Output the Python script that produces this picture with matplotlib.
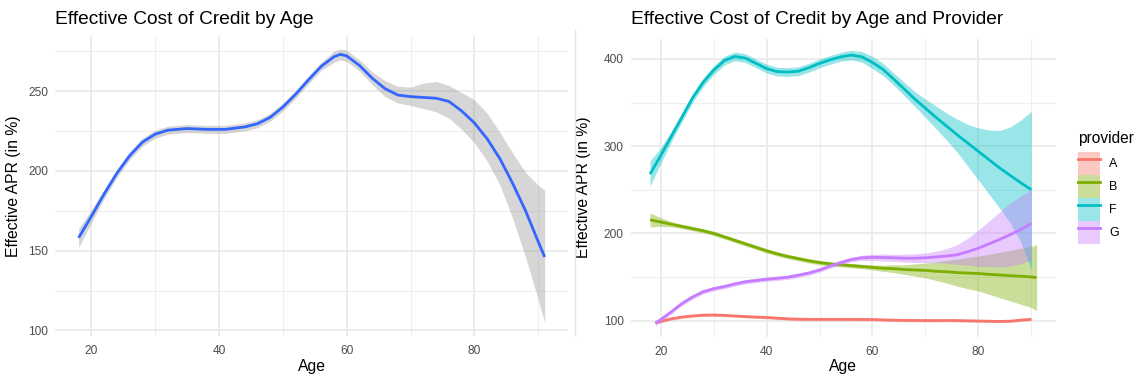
import matplotlib
matplotlib.use('Agg')
import matplotlib.pyplot as plt
from matplotlib.patches import Patch
from matplotlib.lines import Line2D
from matplotlib.legend_handler import HandlerTuple

plt.rcParams['font.family'] = ['Liberation Sans', 'DejaVu Sans']

# ---- left panel: all providers ----
age_all = [18, 20, 22, 24, 26, 28, 30, 32, 35, 38, 41, 44, 46, 48, 50, 52, 54, 56, 58, 59,
           60, 62, 64, 66, 68, 70, 72, 74, 76, 78, 80, 82, 84, 86, 88, 90, 91]
apr_all = [158, 171.5, 185.5, 198.5, 209.5, 218, 223, 225.5, 226.5, 226, 226, 227.5, 229.5, 233.5, 240, 248, 257, 265.5, 271.5, 273,
           272, 266, 258, 251.5, 247.5, 246.5, 246, 245.5, 243.5, 237.5, 230, 220, 207.5, 192, 175, 155.5, 146]
lo_all = [152, 167.5, 182.5, 196, 207, 215.5, 220.5, 223, 224, 223.5, 223.5, 225, 227, 231, 237.5, 245.5, 254.5, 263, 268, 269.5,
          268.5, 262.5, 254, 246.5, 242.5, 241, 239, 237, 233, 226, 217.5, 206, 191, 170, 146, 119, 105]
hi_all = [164, 175.5, 188.5, 201, 212, 220.5, 225.5, 228, 229, 228.5, 228.5, 230, 232, 236, 242.5, 250.5, 259.5, 268, 275, 276.5,
          275.5, 269.5, 262, 256.5, 253, 252.5, 255, 256, 253.5, 249, 244.5, 236, 224, 211, 199, 191, 188]

# ---- right panel: by provider ----
providers = ['A', 'B', 'F', 'G']
colors = ['#F8766D', '#7CAE00', '#00BFC4', '#C77CFF']

age_A = [19, 20, 22, 24, 26, 28, 30, 32, 34, 36, 38, 40, 42, 44, 46, 48, 50, 55, 60, 63, 66, 70, 75, 80, 84, 86, 88, 90]
apr_A = [97.5, 99, 102, 104, 105.3, 106.2, 106.4, 106, 105.3, 104.6, 104, 103.6, 102.8, 102, 101.6, 101.4, 101.4,
         101.4, 101.2, 100.6, 100.2, 100, 100.1, 99.5, 99, 99.3, 100.5, 101.5]
lo_A = [a - 1.5 for a in apr_A]
hi_A = [a + 1.5 for a in apr_A]

age_B = [18, 20, 22, 24, 26, 28, 30, 32, 34, 36, 38, 40, 42, 44, 46, 48, 50, 52, 54, 56, 58,
         60, 62, 64, 66, 68, 70, 72, 74, 76, 78, 80, 82, 84, 86, 88, 90, 91]
apr_B = [215.5, 213, 210.5, 208, 205.5, 203, 200, 196, 192, 188, 184, 180, 176.5, 173.5, 171, 168.5, 166.5, 165, 164, 163, 162,
         161, 160, 159.5, 158.5, 158, 157.5, 156.5, 156, 155, 154.5, 154, 153, 152.3, 151.5, 150.8, 150, 149.2]
hw_B = [8, 5, 3, 2.5, 2.5, 2.5, 2.5, 2.5, 2.5, 2.5, 2.5, 2.5, 2.5, 2.5, 2.5, 2.5, 2.5, 2.5, 2.5, 2.5, 2.5,
        3, 3.5, 4.5, 5.5, 7, 8.5, 10.5, 13, 15.5, 18, 20, 23, 26, 29, 32, 35, 38]
lo_B = [a - h for a, h in zip(apr_B, hw_B)]
hi_B = [a + h for a, h in zip(apr_B, hw_B)]

age_F = [18, 20, 22, 24, 26, 28, 30, 32, 34, 36, 38, 40, 42, 44, 46, 48, 50, 52, 54, 56, 58,
         60, 62, 64, 66, 68, 70, 72, 74, 76, 78, 80, 82, 84, 86, 88, 90]
apr_F = [268, 289, 311, 333, 355, 373, 387, 398, 403, 401, 395, 389, 385.5, 385, 386, 390, 395, 399, 402.5, 404.5, 402.5,
         396, 388, 377, 365.5, 354, 343.5, 333, 323, 313, 303.5, 294, 284.5, 275, 266.5, 258, 250]
lo_F = [254, 280, 305, 328, 350, 368, 382, 393, 398, 396, 390, 384, 380.5, 380, 381, 385, 390, 394, 397.5, 399, 396.5,
        389, 381, 370, 358, 345.5, 333, 320, 307, 293, 277, 261, 245, 229, 212, 190, 158]
hi_F = [283, 298, 317, 338, 360, 378, 392, 403, 408, 406, 400, 394, 390.5, 390, 391, 395, 400, 404, 407.5, 410, 408.5,
        403, 395, 384, 373, 362.5, 354, 346, 338, 331, 325, 321, 318.5, 318, 322, 330, 340]

age_G = [19, 20, 22, 24, 26, 28, 30, 32, 34, 36, 38, 40, 42, 44, 46, 48, 50, 52, 54, 56, 58,
         60, 62, 64, 66, 68, 70, 72, 74, 76, 78, 80, 82, 84, 86, 88, 90]
apr_G = [97, 101, 110, 119.5, 127, 133, 136.5, 139, 142, 144.5, 146, 147.4, 148.5, 149.7, 152, 154.5, 158, 162.5, 166.5, 170, 172,
         172.5, 172.3, 172, 171.5, 171.5, 172, 173, 174, 175.5, 179, 183, 188, 193, 198.5, 204.5, 211.5]
lo_G = [94, 98.5, 107.5, 117, 124.5, 130.5, 134, 136.5, 139.5, 142, 143.5, 145, 146, 147.2, 149.5, 152, 155.5, 160, 164, 167.5, 169,
        169, 168.3, 168, 167, 166.5, 166.5, 166.5, 165.5, 164.5, 163.5, 162, 162, 161.5, 162.5, 165, 170]
hi_G = [100, 103.5, 112.5, 122, 129.5, 135.5, 139, 141.5, 144.5, 147, 148.5, 149.9, 151, 152.2, 154.5, 157, 160.5, 165, 169, 172.5, 175,
        176, 176.3, 176, 176, 176.5, 177.5, 179.5, 182.5, 187, 194.5, 204, 214, 224.5, 234.5, 243, 250]

series = {
    'A': (age_A, apr_A, lo_A, hi_A),
    'B': (age_B, apr_B, lo_B, hi_B),
    'F': (age_F, apr_F, lo_F, hi_F),
    'G': (age_G, apr_G, lo_G, hi_G),
}

W, H = 1136, 381
fig = plt.figure(figsize=(W / 100, H / 100), dpi=100)
ax1 = fig.add_axes([55.3 / W, 1 - 336 / H, (568 - 55.3) / W, 300 / H])
ax2 = fig.add_axes([630.7 / W, 1 - 336.7 / H, (1056 - 630.7) / W, 298.2 / H])


def style(ax, xmin, xmax, ymin, ymax, yticks, yminor):
    ax.set_xlim(xmin, xmax)
    ax.set_ylim(ymin, ymax)
    ax.set_xticks([20, 40, 60, 80])
    ax.set_xticks([30, 50, 70, 90], minor=True)
    ax.set_yticks(yticks)
    ax.set_yticks(yminor, minor=True)
    for s in ax.spines.values():
        s.set_visible(False)
    ax.grid(which='major', color='#EBEBEB', lw=1.3)
    ax.grid(which='minor', color='#EFEFEF', lw=0.8)
    ax.set_axisbelow(True)
    ax.tick_params(which='both', length=0, labelsize=8.6, labelcolor='#4D4D4D')
    ax.tick_params(axis='x', pad=6.8)
    ax.tick_params(axis='y', pad=5.2)
    ax.set_xlabel('Age', fontsize=11.3)
    ax.set_ylabel('Effective APR (in %)', fontsize=11.3)


# left
ax1.fill_between(age_all, lo_all, hi_all, color='#999999', alpha=0.4, lw=0, zorder=2)
ax1.plot(age_all, apr_all, color='#3366FF', lw=2.0, zorder=3, solid_capstyle='butt')
style(ax1, 14.35, 94.65, 96.5, 284.5, [100, 150, 200, 250], [125, 175, 225, 275])
ax1.set_title('Effective Cost of Credit by Age', loc='left', fontsize=13.8, pad=8.3)
ax1.xaxis.set_label_coords(0.5, -0.078)
ax1.yaxis.set_label_coords(-0.066, 0.5)

# right
z = 2
for p, c in zip(providers, colors):
    x, y, lo, hi = series[p]
    ax2.fill_between(x, lo, hi, color=c, alpha=0.4, lw=0, zorder=z)
    ax2.plot(x, y, color=c, lw=2.0, zorder=z + 1, solid_capstyle='butt')
    z += 2
style(ax2, 14.35, 94.65, 81.5, 423.5, [100, 200, 300, 400], [150, 250, 350])
ax2.set_title('Effective Cost of Credit by Age and Provider', loc='left', fontsize=13.8, pad=10.1)
ax2.xaxis.set_label_coords(0.5, -0.076)
ax2.yaxis.set_label_coords(-0.093, 0.5)

# legend
fig.text(1078 / W, 1 - 138 / H, 'provider', fontsize=11.2, ha='left', va='center')
handles = [(Patch(facecolor=c, alpha=0.4, edgecolor='none'), Line2D([], [], color=c, lw=2.0))
           for c in colors]
ax2.legend(handles, providers, handler_map={tuple: HandlerTuple(ndivide=1, pad=0)},
           loc='upper left', bbox_to_anchor=(1078 / W, 1 - 151.7 / H), bbox_transform=fig.transFigure,
           frameon=False, fontsize=9, handlelength=1.76, handleheight=2.45, labelspacing=0,
           handletextpad=0.72, borderpad=0, borderaxespad=0)

# faint separator between the two panels
fig.add_artist(Line2D([575 / W, 575 / W], [0.12, 0.92], transform=fig.transFigure, color='#E6E6E6', lw=1))

fig.savefig('out.png', dpi=100)
